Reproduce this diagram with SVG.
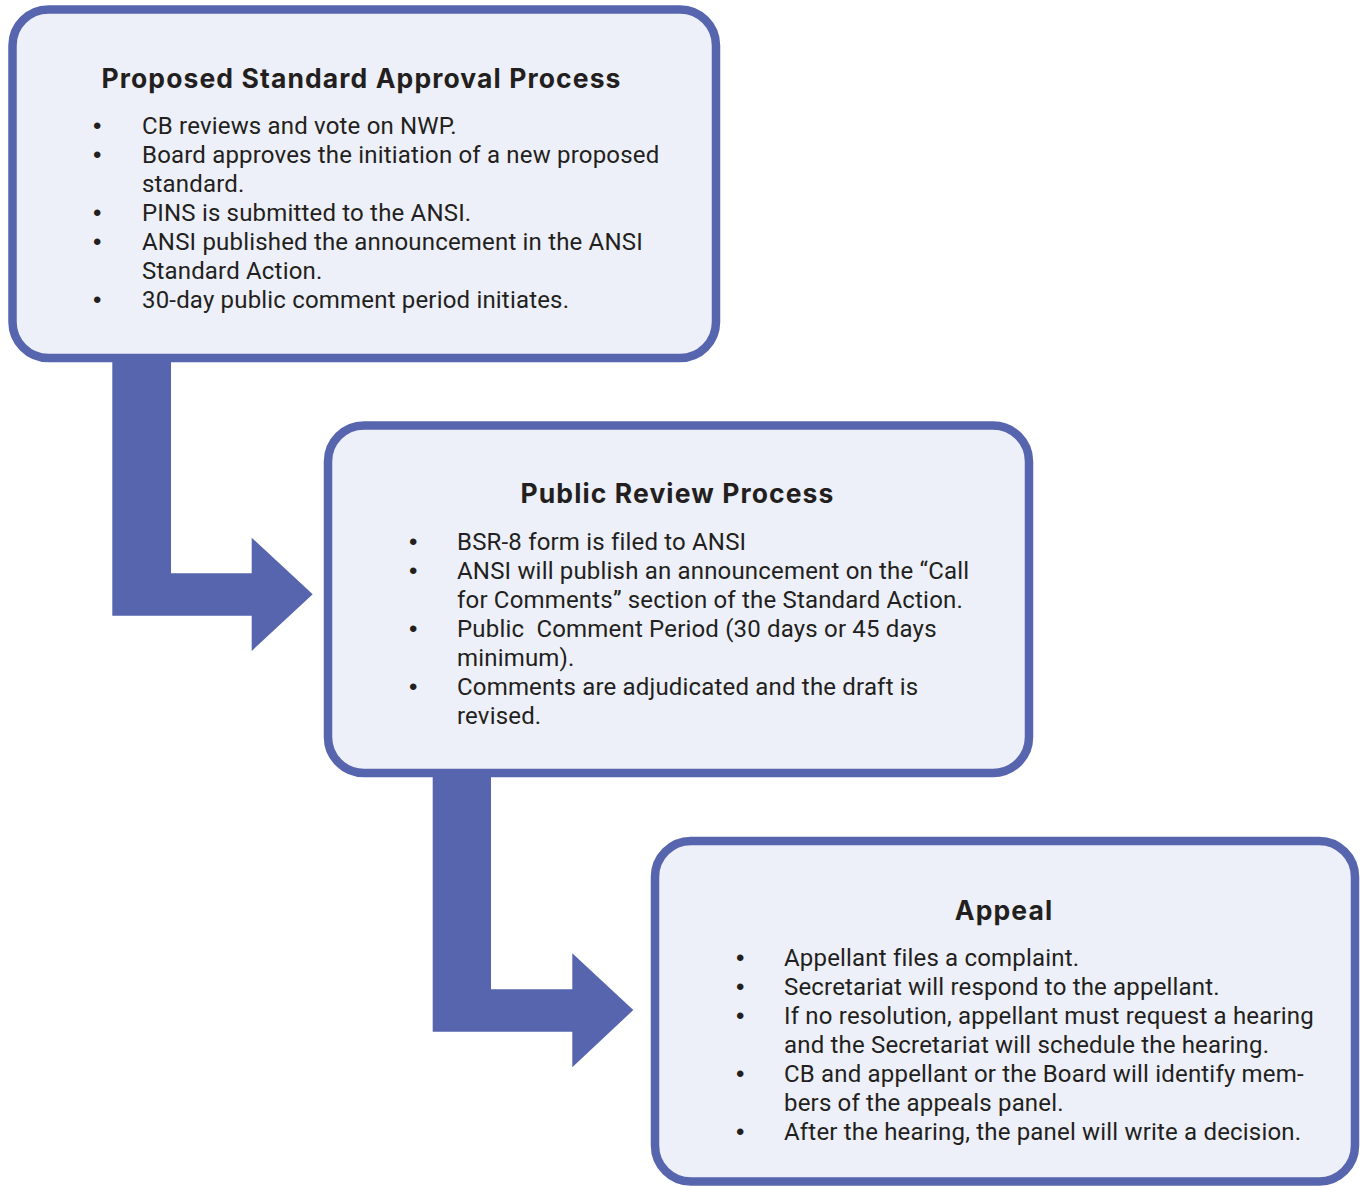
<svg xmlns="http://www.w3.org/2000/svg" width="1362" height="1187" viewBox="0 0 1362 1187">
<style>
.box{fill:#edf0f8;stroke:#5765af;stroke-width:8.5}
.arrow{fill:#5765af}
.title{font-family:Inter,Roboto,"Liberation Sans",sans-serif;font-weight:bold;font-size:26.5px;letter-spacing:1.1px;fill:#231f20;text-anchor:middle}
.body{font-family:Roboto,"Liberation Sans",sans-serif;font-size:24px;letter-spacing:0.18px;fill:#231f20}
.bul{font-family:"Liberation Sans",sans-serif;font-size:24px;fill:#231f20}
</style>
<rect width="1362" height="1187" fill="#ffffff"/>
<g id="connectors">
<path class="arrow" d="M112.3,355 L171,355 L171,573.3 L251.7,573.3 L251.7,537.7 L312.7,594.3 L251.7,651 L251.7,615.7 L112.3,615.7 Z"/>
<path class="arrow" d="M432.7,770 L491,770 L491,989.3 L572.3,989.3 L572.3,953.3 L633.3,1010 L572.3,1067.3 L572.3,1031.7 L432.7,1031.7 Z"/>
</g>
<g id="node-proposed">
<rect class="box" x="12.5" y="9.5" width="703.5" height="348.5" rx="36"/>
<text class="title" x="361.5" y="88">Proposed Standard Approval Process</text>
<g class="bul">
<text x="93" y="134">•</text><text x="93" y="163">•</text><text x="93" y="221">•</text><text x="93" y="250">•</text><text x="93" y="308">•</text>
</g>
<g class="body">
<text x="142" y="134">CB reviews and vote on NWP.</text>
<text x="142" y="163">Board approves the initiation of a new proposed</text>
<text x="142" y="192">standard.</text>
<text x="142" y="221">PINS is submitted to the ANSI.</text>
<text x="142" y="250">ANSI published the announcement in the ANSI</text>
<text x="142" y="279">Standard Action.</text>
<text x="142" y="308">30-day public comment period initiates.</text>
</g>
</g>
<g id="node-public-review">
<rect class="box" x="328" y="425.5" width="701" height="347.5" rx="36"/>
<text class="title" x="677.5" y="503">Public Review Process</text>
<g class="bul">
<text x="409" y="550">•</text><text x="409" y="579">•</text><text x="409" y="637">•</text><text x="409" y="695">•</text>
</g>
<g class="body">
<text x="457" y="550">BSR-8 form is filed to ANSI</text>
<text x="457" y="579">ANSI will publish an announcement on the “Call</text>
<text x="457" y="608">for Comments” section of the Standard Action.</text>
<text x="457" y="637" xml:space="preserve">Public  Comment Period (30 days or 45 days</text>
<text x="457" y="666">minimum).</text>
<text x="457" y="695">Comments are adjudicated and the draft is</text>
<text x="457" y="724">revised.</text>
</g>
</g>
<g id="node-appeal">
<rect class="box" x="655" y="841" width="700" height="340.5" rx="36"/>
<text class="title" x="1004" y="920">Appeal</text>
<g class="bul">
<text x="736" y="966">•</text><text x="736" y="995">•</text><text x="736" y="1024">•</text><text x="736" y="1082">•</text><text x="736" y="1140">•</text>
</g>
<g class="body">
<text x="784" y="966">Appellant files a complaint.</text>
<text x="784" y="995">Secretariat will respond to the appellant.</text>
<text x="784" y="1024">If no resolution, appellant must request a hearing</text>
<text x="784" y="1053">and the Secretariat will schedule the hearing.</text>
<text x="784" y="1082">CB and appellant or the Board will identify mem-</text>
<text x="784" y="1111">bers of the appeals panel.</text>
<text x="784" y="1140">After the hearing, the panel will write a decision.</text>
</g>
</g>
</svg>
